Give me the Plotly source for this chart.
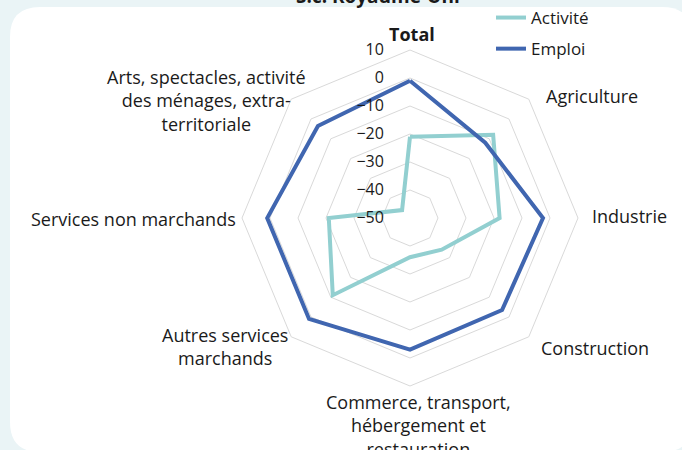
import plotly.graph_objects as go

# Categories (clockwise from the top)
categories = ['Total', 'Agriculture', 'Industrie', 'Construction',
              'Commerce, transport, hébergement et restauration',
              'Autres services marchands', 'Services non marchands',
              'Arts, spectacles, activité des ménages, extra-territoriale']
label_text = ['<b>Total</b>', 'Agriculture', 'Industrie', 'Construction',
              'Commerce, transport,<br>hébergement et<br>restauration',
              'Autres services<br>marchands', 'Services non marchands',
              'Arts, spectacles, activité<br>des ménages, extra-<br>territoriale']
# label centres in pixels (x, y) as Excel lays them out
label_pos = [(412, 34), (592, 96), (629, 216), (595, 348),
             (418, 425), (225, 346), (133, 219), (206, 100)]

activite = [-21, -8, -18, -34, -36, -11, -21, -46]
emploi = [-1, -12, -2.5, -3.5, -3, 1, 1, -3.5]

W, H = 682, 450
BG = '#EAF4F6'
GRID = '#D9D9D9'

fig = go.Figure()

fig.add_trace(go.Scatterpolar(
    r=activite + activite[:1], theta=categories + categories[:1],
    mode='lines', name='Activité', legendgroup='a',
    line=dict(color='#92CFD0', width=4)
))
fig.add_trace(go.Scatterpolar(
    r=emploi + emploi[:1], theta=categories + categories[:1],
    mode='lines', name='Emploi', legendgroup='e',
    line=dict(color='#4066B0', width=4)
))

# pixel -> paper
def px(x):
    return x / W

def py(y):
    return 1 - y / H

# white rounded panel
x0, y0, x1, y1, rad = 10, 7, 692, 452, 30
path = (f"M {px(x0 + rad)},{py(y0)} L {px(x1 - rad)},{py(y0)} "
        f"Q {px(x1)},{py(y0)} {px(x1)},{py(y0 + rad)} "
        f"L {px(x1)},{py(y1 - rad)} Q {px(x1)},{py(y1)} {px(x1 - rad)},{py(y1)} "
        f"L {px(x0 + rad)},{py(y1)} Q {px(x0)},{py(y1)} {px(x0)},{py(y1 - rad)} "
        f"L {px(x0)},{py(y0 + rad)} Q {px(x0)},{py(y0)} {px(x0 + rad)},{py(y0)} Z")

annotations = [dict(text='<b>S.c. Royaume-Uni</b>', x=px(378), y=py(-4),
                    xref='paper', yref='paper', showarrow=False,
                    font=dict(size=19, color='#1a1a1a'), yanchor='middle')]
for txt, (lx, ly) in zip(label_text, label_pos):
    annotations.append(dict(text=txt, x=px(lx), y=py(ly), xref='paper', yref='paper',
                            showarrow=False, align='center',
                            xanchor='center', yanchor='middle',
                            font=dict(size=18, color='#1a1a1a')))

cx, cy, R = 410, 218, 168

fig.update_layout(
    width=W, height=H,
    margin=dict(l=0, r=0, t=0, b=0),
    paper_bgcolor=BG,
    font=dict(family='Open Sans', size=17, color='#1a1a1a'),
    shapes=[dict(type='path', path=path, xref='paper', yref='paper',
                 fillcolor='white', line=dict(width=0), layer='below')],
    annotations=annotations,
    polar=dict(
        domain=dict(x=[px(cx - R), px(cx + R)], y=[py(cy + R), py(cy - R)]),
        bgcolor='rgba(0,0,0,0)',
        gridshape='linear',
        angularaxis=dict(rotation=90, direction='clockwise',
                         categoryorder='array', categoryarray=categories,
                         showticklabels=False,
                         showgrid=False, showline=True, linecolor=GRID, linewidth=1,
                         ticks=''),
        radialaxis=dict(range=[-50, 10], dtick=10, angle=90, tickangle=90,
                        side='counterclockwise',
                        showline=False, ticks='outside', ticklen=20,
                        tickcolor='rgba(0,0,0,0)', gridcolor=GRID, gridwidth=1,
                        tickfont=dict(size=16))
    ),
    legend=dict(x=px(491), y=py(0), xanchor='left', yanchor='top',
                bgcolor='rgba(0,0,0,0)', tracegroupgap=6,
                font=dict(size=17))
)

fig.write_html('out.html', config={'displayModeBar': False},
               post_script="document.body.style.margin='0';")
